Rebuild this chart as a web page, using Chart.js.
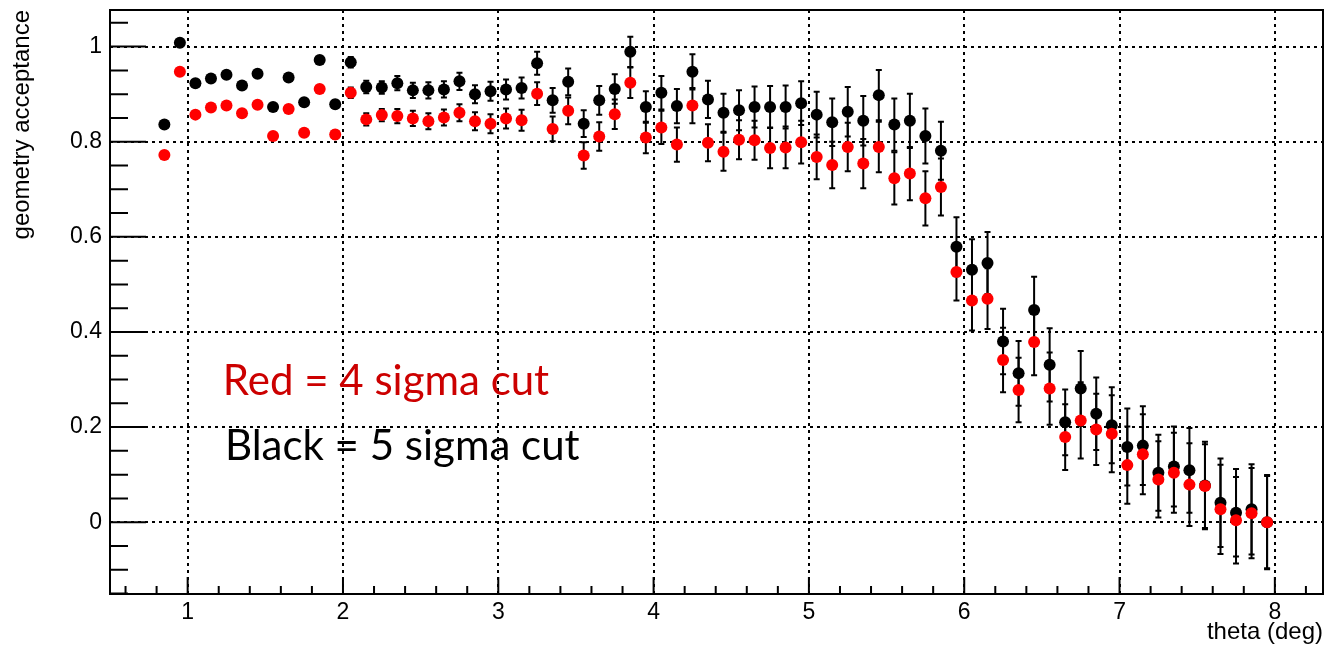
<!DOCTYPE html>
<html>
<head>
<meta charset="utf-8">
<script src="https://cdn.jsdelivr.net/npm/chart.js@4/dist/chart.umd.min.js"></script>
<style>
  body { margin: 0; background: #fff; }
</style>
</head>
<body>
<canvas id="accChart" width="1329" height="650"></canvas>
<script>
// theta bin centres (deg)
var theta = [
  0.85, 0.95, 1.05, 1.15, 1.25, 1.35, 1.45, 1.55, 1.65, 1.75, 1.85, 1.95,
  2.05, 2.15, 2.25, 2.35, 2.45, 2.55, 2.65, 2.75, 2.85, 2.95, 3.05, 3.15,
  3.25, 3.35, 3.45, 3.55, 3.65, 3.75, 3.85, 3.95, 4.05, 4.15, 4.25, 4.35,
  4.45, 4.55, 4.65, 4.75, 4.85, 4.95, 5.05, 5.15, 5.25, 5.35, 5.45, 5.55,
  5.65, 5.75, 5.85, 5.95, 6.05, 6.15, 6.25, 6.35, 6.45, 6.55, 6.65, 6.75,
  6.85, 6.95, 7.05, 7.15, 7.25, 7.35, 7.45, 7.55, 7.65, 7.75, 7.85, 7.95
];

// 5 sigma cut (black)
var acc5sigma = [
  0.836, 1.008, 0.923, 0.933, 0.941, 0.918, 0.943, 0.873, 0.935, 0.883, 0.972, 0.879,
  0.967, 0.915, 0.914, 0.923, 0.908, 0.908, 0.910, 0.927, 0.900, 0.906, 0.910, 0.913,
  0.965, 0.887, 0.926, 0.838, 0.887, 0.911, 0.989, 0.873, 0.903, 0.875, 0.947, 0.889,
  0.861, 0.866, 0.873, 0.873, 0.873, 0.881, 0.857, 0.841, 0.863, 0.844, 0.898, 0.836,
  0.844, 0.812, 0.781, 0.579, 0.531, 0.545, 0.380, 0.313, 0.446, 0.331, 0.210, 0.281,
  0.228, 0.204, 0.158, 0.161, 0.104, 0.117, 0.109, 0.077, 0.041, 0.020, 0.027, 0.000
];
var err5sigma = [
  0.004, 0.004, 0.004, 0.004, 0.004, 0.004, 0.005, 0.005, 0.005, 0.006, 0.006, 0.008,
  0.011, 0.013, 0.013, 0.015, 0.016, 0.017, 0.017, 0.018, 0.019, 0.020, 0.021, 0.022,
  0.024, 0.026, 0.028, 0.028, 0.030, 0.031, 0.032, 0.033, 0.035, 0.036, 0.037, 0.039,
  0.040, 0.042, 0.043, 0.044, 0.045, 0.046, 0.048, 0.050, 0.052, 0.052, 0.053, 0.055,
  0.057, 0.058, 0.061, 0.062, 0.064, 0.065, 0.069, 0.068, 0.070, 0.077, 0.069, 0.079,
  0.076, 0.080, 0.081, 0.083, 0.080, 0.084, 0.089, 0.092, 0.093, 0.092, 0.095, 0.099
];

// 4 sigma cut (red)
var acc4sigma = [
  0.772, 0.947, 0.857, 0.872, 0.876, 0.860, 0.878, 0.812, 0.869, 0.819, 0.911, 0.815,
  0.903, 0.847, 0.856, 0.854, 0.849, 0.843, 0.851, 0.861, 0.843, 0.838, 0.849, 0.845,
  0.901, 0.827, 0.865, 0.771, 0.811, 0.858, 0.924, 0.809, 0.830, 0.794, 0.876, 0.798,
  0.779, 0.804, 0.803, 0.787, 0.788, 0.799, 0.768, 0.751, 0.789, 0.754, 0.789, 0.723,
  0.733, 0.681, 0.705, 0.526, 0.466, 0.470, 0.341, 0.278, 0.379, 0.281, 0.179, 0.214,
  0.195, 0.186, 0.120, 0.143, 0.090, 0.104, 0.079, 0.076, 0.027, 0.004, 0.019, 0.000
];
var err4sigma = [
  0.004, 0.004, 0.004, 0.004, 0.004, 0.004, 0.005, 0.005, 0.005, 0.006, 0.006, 0.008,
  0.011, 0.013, 0.013, 0.015, 0.016, 0.017, 0.017, 0.018, 0.019, 0.020, 0.021, 0.022,
  0.024, 0.026, 0.028, 0.028, 0.030, 0.031, 0.032, 0.033, 0.035, 0.036, 0.037, 0.039,
  0.040, 0.041, 0.041, 0.043, 0.044, 0.045, 0.047, 0.049, 0.051, 0.052, 0.053, 0.055,
  0.056, 0.057, 0.060, 0.060, 0.063, 0.064, 0.068, 0.068, 0.070, 0.076, 0.069, 0.080,
  0.075, 0.081, 0.081, 0.084, 0.080, 0.084, 0.087, 0.088, 0.094, 0.091, 0.095, 0.097
];

var xTicks = [1, 2, 3, 4, 5, 6, 7, 8];
var yTicks = [0, 0.2, 0.4, 0.6, 0.8, 1];
var xMinorTicks = [0.6, 0.8, 1.2, 1.4, 1.6, 1.8, 2.2, 2.4, 2.6, 2.8, 3.2, 3.4, 3.6, 3.8,
  4.2, 4.4, 4.6, 4.8, 5.2, 5.4, 5.6, 5.8, 6.2, 6.4, 6.6, 6.8, 7.2, 7.4, 7.6, 7.8, 8.2];
var yMinorTicks = [-0.15, -0.1, -0.05, 0.05, 0.1, 0.15, 0.25, 0.3, 0.35, 0.45, 0.5, 0.55,
  0.65, 0.7, 0.75, 0.85, 0.9, 0.95, 1.05];

function toPoints(xs, ys) {
  return xs.map(function(x, i) { return { x: x, y: ys[i] }; });
}

var errorBars = {
  id: "errorBars",
  beforeDatasetsDraw: function(chart) {
    var ctx = chart.ctx;
    var xs = chart.scales.x, ys = chart.scales.y;
    var sets = [[acc5sigma, err5sigma], [acc4sigma, err4sigma]];
    ctx.save();
    ctx.strokeStyle = "#000";
    ctx.lineWidth = 2;
    sets.forEach(function(s) {
      theta.forEach(function(t, i) {
        var px = xs.getPixelForValue(t);
        var top = ys.getPixelForValue(s[0][i] + s[1][i]);
        var bot = ys.getPixelForValue(s[0][i] - s[1][i]);
        ctx.beginPath();
        ctx.moveTo(px, top); ctx.lineTo(px, bot);
        ctx.moveTo(px - 3, top); ctx.lineTo(px + 3, top);
        ctx.moveTo(px - 3, bot); ctx.lineTo(px + 3, bot);
        ctx.stroke();
      });
    });
    ctx.restore();
  }
};

var frameAndText = {
  id: "frameAndText",
  afterDraw: function(chart) {
    var ctx = chart.ctx;
    var a = chart.chartArea;
    var xs = chart.scales.x, ys = chart.scales.y;
    ctx.save();
    ctx.strokeStyle = "#000";
    ctx.lineWidth = 2;
    ctx.strokeRect(a.left, a.top, a.right - a.left, a.bottom - a.top);
    ctx.beginPath();
    xTicks.forEach(function(v) {
      var p = xs.getPixelForValue(v);
      ctx.moveTo(p, a.bottom); ctx.lineTo(p, a.bottom - 17);
    });
    xMinorTicks.forEach(function(v) {
      var p = xs.getPixelForValue(v);
      ctx.moveTo(p, a.bottom); ctx.lineTo(p, a.bottom - 8);
    });
    yTicks.forEach(function(v) {
      var p = ys.getPixelForValue(v);
      ctx.moveTo(a.left, p); ctx.lineTo(a.left + 36, p);
    });
    yMinorTicks.forEach(function(v) {
      var p = ys.getPixelForValue(v);
      ctx.moveTo(a.left, p); ctx.lineTo(a.left + 18, p);
    });
    ctx.stroke();

    // cut labels
    ctx.font = "42px Lato";
    ctx.textBaseline = "alphabetic";
    ctx.textAlign = "left";
    ctx.fillStyle = "#cc0000";
    ctx.fillText("Red = 4 sigma cut", xs.getPixelForValue(1.226), ys.getPixelForValue(0.2675));
    ctx.fillStyle = "#000";
    ctx.fillText("Black = 5 sigma cut", xs.getPixelForValue(1.24), ys.getPixelForValue(0.131));
    ctx.restore();
  }
};

var tickFont = { family: "'Liberation Sans', Arial, sans-serif", size: 23 };
var titleFont = { family: "'Liberation Sans', Arial, sans-serif", size: 24 };

new Chart(document.getElementById("accChart").getContext("2d"), {
  type: "scatter",
  data: {
    datasets: [{
      label: "4 sigma",
      data: toPoints(theta, acc4sigma),
      backgroundColor: "#ff0000",
      borderWidth: 0,
      pointRadius: 6,
      pointHoverRadius: 6,
      order: 0
    }, {
      label: "5 sigma",
      data: toPoints(theta, acc5sigma),
      backgroundColor: "#000000",
      borderWidth: 0,
      pointRadius: 6,
      pointHoverRadius: 6,
      order: 1
    }]
  },
  options: {
    responsive: false,
    animation: false,
    layout: { padding: { top: 10, right: 4, bottom: 0, left: 0 } },
    plugins: { legend: { display: false }, tooltip: { enabled: false } },
    scales: {
      x: {
        type: "linear",
        min: 0.5,
        max: 8.31,
        afterBuildTicks: function(scale) {
          scale.ticks = xTicks.map(function(v) { return { value: v }; });
        },
        afterFit: function(scale) {
          scale.height = 56;
          scale.paddingLeft = 0;
          scale.paddingRight = 0;
        },
        ticks: {
          color: "#000",
          font: tickFont,
          padding: 5,
          maxRotation: 0,
          callback: function(v) { return String(v); }
        },
        grid: { color: "#000", lineWidth: 2, drawTicks: false },
        border: { display: false, dash: [3, 4] },
        title: {
          display: true,
          text: "theta (deg)",
          align: "end",
          color: "#000",
          font: titleFont,
          padding: { top: 0, bottom: 3 }
        }
      },
      y: {
        type: "linear",
        min: -0.151,
        max: 1.077,
        afterBuildTicks: function(scale) {
          scale.ticks = yTicks.map(function(v) { return { value: v }; });
        },
        afterFit: function(scale) {
          scale.width = 110;
          scale.paddingTop = 0;
          scale.paddingBottom = 0;
        },
        ticks: {
          color: "#000",
          font: tickFont,
          padding: 8,
          callback: function(v) { return String(v); }
        },
        grid: { color: "#000", lineWidth: 2, drawTicks: false },
        border: { display: false, dash: [3, 4] },
        title: {
          display: true,
          text: "geometry acceptance",
          align: "end",
          color: "#000",
          font: titleFont,
          padding: { top: 8, bottom: 0 }
        }
      }
    }
  },
  plugins: [errorBars, frameAndText]
});
</script>
</body>
</html>
